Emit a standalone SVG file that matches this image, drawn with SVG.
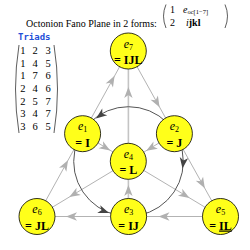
<svg xmlns="http://www.w3.org/2000/svg" xmlns:xlink="http://www.w3.org/1999/xlink" width="250" height="250" viewBox="0 0 250 250">
<style>
.ln{stroke:#b3b3b3;stroke-width:1;fill:none}
.lnv{stroke:#c4c4c4;stroke-width:1.6;fill:none}
.arc{stroke:#555;stroke-width:1;fill:none}
.ah{fill:#b0b0b0}
.dh{fill:#444}
.nd{fill:#ffff1a;stroke:#000;stroke-width:0.8}
.el{font-family:"Liberation Serif",serif;font-style:italic;font-size:12px;text-anchor:middle}
.sb{font-size:8px;font-style:normal}
.vl{font-family:"Liberation Serif",serif;font-weight:bold;font-size:12px;text-anchor:middle}
.tx{font-family:"Liberation Serif",serif;font-size:10px}
.dg{font-family:"Liberation Serif",serif;font-size:10.5px;text-anchor:middle}
.par{stroke:#333;stroke-width:0.8;fill:none}
</style>
<defs>
<path id="ah" d="M0,0 L-11,-4.2 L-8,0 L-11,4.2 Z"/>
</defs>
<rect width="250" height="250" fill="#fff"/>
<text class="tx" x="26" y="26.5">Octonion Fano Plane in 2 forms:</text>
<path class="par" d="M166,4.5 Q161,16 166,28"/>
<path class="par" d="M225,4.5 Q230,16 225,28"/>
<text class="tx" x="170" y="13">1</text>
<text class="tx" x="170" y="26">2</text>
<text class="tx" x="183" y="12.5"><tspan font-style="italic">e</tspan><tspan font-size="6.5px" dy="1.5">oc[1−7]</tspan></text>
<text class="tx" x="186" y="26"><tspan font-style="italic">i</tspan><tspan font-weight="bold">jkl</tspan></text>
<text x="18" y="40" font-family="DejaVu Sans Mono,monospace" font-weight="bold" font-size="9px" fill="#2350d8">Triads</text>
<path class="par" d="M19,45 Q12,89 19,133"/>
<path class="par" d="M54,45 Q61,89 54,133"/>
<g class="dg">
<text x="22.8" y="54">1</text><text x="35.2" y="54">2</text><text x="48.2" y="54">3</text>
<text x="22.8" y="66.7">1</text><text x="35.2" y="66.7">4</text><text x="48.2" y="66.7">5</text>
<text x="22.8" y="79.3">1</text><text x="35.2" y="79.3">7</text><text x="48.2" y="79.3">6</text>
<text x="22.8" y="92">2</text><text x="35.2" y="92">4</text><text x="48.2" y="92">6</text>
<text x="22.8" y="104.7">2</text><text x="35.2" y="104.7">5</text><text x="48.2" y="104.7">7</text>
<text x="22.8" y="117.3">3</text><text x="35.2" y="117.3">4</text><text x="48.2" y="117.3">7</text>
<text x="22.8" y="130">3</text><text x="35.2" y="130">6</text><text x="48.2" y="130">5</text>
</g>
<g id="connectors">
<line class="ln" x1="37" y1="216.5" x2="128.3" y2="51"/>
<line class="ln" x1="128.3" y1="51" x2="220.5" y2="216.5"/>
<line class="ln" x1="220.5" y1="216.5" x2="37" y2="216.5"/>
<line class="lnv" x1="128.4" y1="216.5" x2="128.4" y2="51"/>
<line class="ln" x1="82.6" y1="133.7" x2="220.5" y2="216.5"/>
<line class="ln" x1="174.4" y1="133.7" x2="37" y2="216.5"/>
<circle class="arc" cx="128.5" cy="161.5" r="54.8"/>
<g class="ah">
<use xlink:href="#ah" transform="translate(68,160.2) rotate(-61.1)"/>
<use xlink:href="#ah" transform="translate(114.6,75.8) rotate(-61.1)"/>
<use xlink:href="#ah" transform="translate(159.6,107.2) rotate(60.7)"/>
<use xlink:href="#ah" transform="translate(204.8,188.3) rotate(60.7)"/>
<use xlink:href="#ah" transform="translate(158.5,216.5) rotate(180)"/>
<use xlink:href="#ah" transform="translate(66,216.5) rotate(180)"/>
<use xlink:href="#ah" transform="translate(128.4,185) rotate(-90)"/>
<use xlink:href="#ah" transform="translate(128.4,87) rotate(-90)"/>
<use xlink:href="#ah" transform="translate(110.2,150.5) rotate(31.3)"/>
<use xlink:href="#ah" transform="translate(146.3,150.8) rotate(148.5)"/>
<use xlink:href="#ah" transform="translate(189.5,197.9) rotate(30.9)"/>
<use xlink:href="#ah" transform="translate(69.3,197) rotate(149.1)"/>
</g>
<g class="dh">
<use xlink:href="#ah" transform="translate(96,118.5) rotate(142.9)"/>
<use xlink:href="#ah" transform="translate(109,213) rotate(20.7)"/>
<use xlink:href="#ah" transform="translate(182.5,168.5) rotate(97.4)"/>
</g>
</g>
<g id="e7"><circle class="nd" cx="128.3" cy="51" r="18"/><text class="el" x="128.3" y="47.5">e<tspan class="sb" dy="2">7</tspan></text><text class="vl" x="128.3" y="64">= IJL</text></g>
<g id="e1"><circle class="nd" cx="82.6" cy="133.7" r="18"/><text class="el" x="82.6" y="130.2">e<tspan class="sb" dy="2">1</tspan></text><text class="vl" x="82.6" y="146.7">= I</text></g>
<g id="e2"><circle class="nd" cx="174.4" cy="133.7" r="18"/><text class="el" x="174.4" y="130.2">e<tspan class="sb" dy="2">2</tspan></text><text class="vl" x="174.4" y="146.7">= J</text></g>
<g id="e4"><circle class="nd" cx="128.3" cy="161.3" r="18"/><text class="el" x="128.3" y="157.8">e<tspan class="sb" dy="2">4</tspan></text><text class="vl" x="128.3" y="174.3">= L</text></g>
<g id="e6"><circle class="nd" cx="37" cy="216.5" r="18"/><text class="el" x="37" y="213">e<tspan class="sb" dy="2">6</tspan></text><text class="vl" x="37" y="229.5">= JL</text></g>
<g id="e3"><circle class="nd" cx="128.6" cy="216.5" r="18"/><text class="el" x="128.6" y="213">e<tspan class="sb" dy="2">3</tspan></text><text class="vl" x="128.6" y="229.5">= IJ</text></g>
<g id="e5"><circle class="nd" cx="220.5" cy="216.5" r="18"/><text class="el" x="220.5" y="213">e<tspan class="sb" dy="2">5</tspan></text><text class="vl" x="220.5" y="229.5">= <tspan text-decoration="underline">IL</tspan></text></g>
</svg>
